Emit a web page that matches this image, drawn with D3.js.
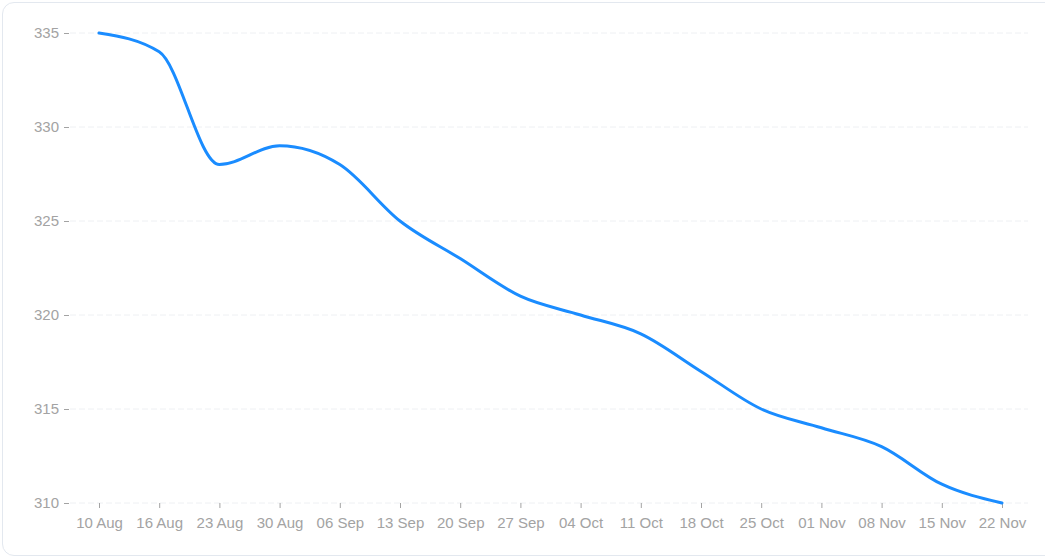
<!DOCTYPE html>
<html>
<head>
<meta charset="utf-8">
<script src="https://cdn.jsdelivr.net/npm/d3@7"></script>
<style>
  body { margin: 0; background: #fff; font-family: "Liberation Sans", Arial, sans-serif; }
  #chart { position: relative; width: 1045px; height: 560px; overflow: hidden; }
  .card { position: absolute; left: 2px; top: 2px; width: 1070px; height: 554px;
          border: 1px solid #e3e8ef; border-radius: 12px; box-sizing: border-box; }
  svg { position: absolute; left: 0; top: 0; }
</style>
</head>
<body>
<div id="chart"><div class="card"></div></div>
<script>
const dates = ['10 Aug', '16 Aug', '23 Aug', '30 Aug', '06 Sep', '13 Sep', '20 Sep', '27 Sep',
  '04 Oct', '11 Oct', '18 Oct', '25 Oct', '01 Nov', '08 Nov', '15 Nov', '22 Nov'];
const values = [335, 334, 328, 329, 328, 325, 323, 321, 320, 319, 317, 315, 314, 313, 311, 310];
const yTicks = [310, 315, 320, 325, 330, 335];

const width = 1045;
const height = 560;

const svg = d3.select('#chart')
  .append('svg')
  .attr('width', width)
  .attr('height', height);

const x = d3.scalePoint()
  .domain(dates)
  .range([99, 1002]);

const y = d3.scaleLinear()
  .domain([310, 335])
  .range([503, 33]);

// grid lines
svg.append('g')
  .selectAll('line')
  .data(yTicks)
  .join('line')
  .attr('x1', 70)
  .attr('x2', 1028)
  .attr('y1', d => y(d))
  .attr('y2', d => y(d))
  .attr('stroke', '#eef0f3')
  .attr('stroke-dasharray', '6 3');

// y axis
const yAxis = svg.append('g')
  .attr('transform', 'translate(69,0)')
  .call(d3.axisLeft(y).tickValues(yTicks).tickSize(5).tickPadding(5));
yAxis.select('.domain').remove();
yAxis.selectAll('line').attr('stroke', '#a3a3a3');
yAxis.selectAll('text')
  .attr('fill', '#a3a3a3')
  .style('font-size', '15px')
  .style('font-family', '"Liberation Sans", Arial, sans-serif');

// x axis
const xAxis = svg.append('g')
  .attr('transform', `translate(0,${y(310)})`)
  .call(d3.axisBottom(x).tickSize(5).tickPadding(9));
xAxis.select('.domain').remove();
xAxis.selectAll('line').attr('stroke', '#a3a3a3');
xAxis.selectAll('text')
  .attr('fill', '#a3a3a3')
  .style('font-size', '15px')
  .style('font-family', '"Liberation Sans", Arial, sans-serif');

// line
const line = d3.line()
  .x((d, i) => x(dates[i]))
  .y(d => y(d))
  .curve(d3.curveMonotoneX);

svg.append('path')
  .datum(values)
  .attr('d', line)
  .attr('fill', 'none')
  .attr('stroke', '#1a8cff')
  .attr('stroke-width', 3)
  .attr('stroke-linecap', 'round');
</script>
</body>
</html>
